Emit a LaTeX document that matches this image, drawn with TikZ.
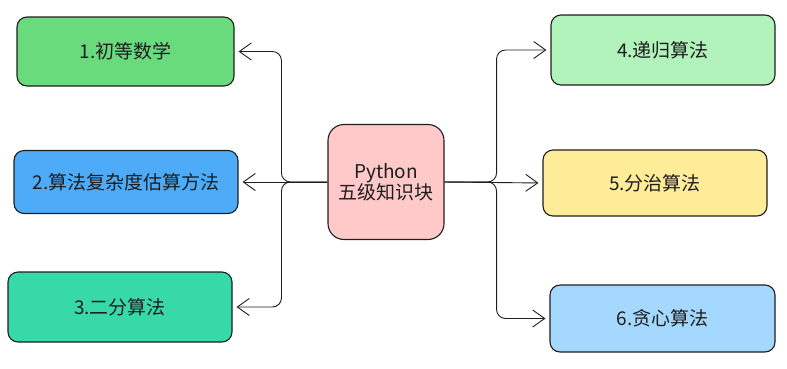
\documentclass[tikz,border=0pt]{standalone}
\usepackage{fontspec}
\setmainfont{Noto Sans CJK SC}
\usetikzlibrary{arrows.meta}
\definecolor{inkdark}{HTML}{1E1E1E}
\definecolor{boxgreen}{HTML}{69DB7C}
\definecolor{boxblue}{HTML}{4DABF7}
\definecolor{boxteal}{HTML}{38D9A9}
\definecolor{boxlgreen}{HTML}{B2F2BB}
\definecolor{boxyellow}{HTML}{FFEC99}
\definecolor{boxlblue}{HTML}{A5D8FF}
\definecolor{boxpink}{HTML}{FFC9C9}
\begin{document}
\begin{tikzpicture}[x=1pt, y=-1pt,
  topic/.style={draw=inkdark, line width=1.1pt, rounded corners=10pt,
    text=inkdark, font=\fontsize{19}{23}\selectfont, inner sep=0pt},
  link/.style={draw=inkdark, line width=0.9pt, rounded corners=9pt,
    -{Straight Barb[length=12pt, width=17pt, line width=0.9pt]}, shorten >=4pt}]
  \useasboundingbox (0,0) rectangle (787,368);

  % Centre block
  \node[topic, fill=boxpink, minimum width=116pt, minimum height=115pt, align=center,
    rounded corners=16pt] (core) at (386,182) {Python\\[-2pt]五级知识块};

  % Left branch
  \node[topic, fill=boxgreen, minimum width=217pt, minimum height=69pt] (n1) at (125.5,51.5) {1.初等数学};
  \node[topic, fill=boxblue, minimum width=224pt, minimum height=63pt] (n2) at (126,182) {2.算法复杂度估算方法};
  \node[topic, fill=boxteal, minimum width=224pt, minimum height=70pt] (n3) at (120,307) {3.二分算法};

  % Right branch
  \node[topic, fill=boxlgreen, minimum width=224pt, minimum height=70pt] (n4) at (663,50) {4.递归算法};
  \node[topic, fill=boxyellow, minimum width=224pt, minimum height=66pt] (n5) at (655,183) {5.分治算法};
  \node[topic, fill=boxlblue, minimum width=225pt, minimum height=67pt] (n6) at (662.5,318.5) {6.贪心算法};

  % Connectors
  \foreach \dst in {n1, n3} {
    \draw[link] (core.west) -- ++(-46,0) |- (\dst.east);
  }
  \draw[link] (core.west) -- (n2.east);
  \foreach \dst in {n4, n6} {
    \draw[link] (core.east) -- ++(52,0) |- (\dst.west);
  }
  \draw[link] (core.east) -- (n5.west);
\end{tikzpicture}
\end{document}
